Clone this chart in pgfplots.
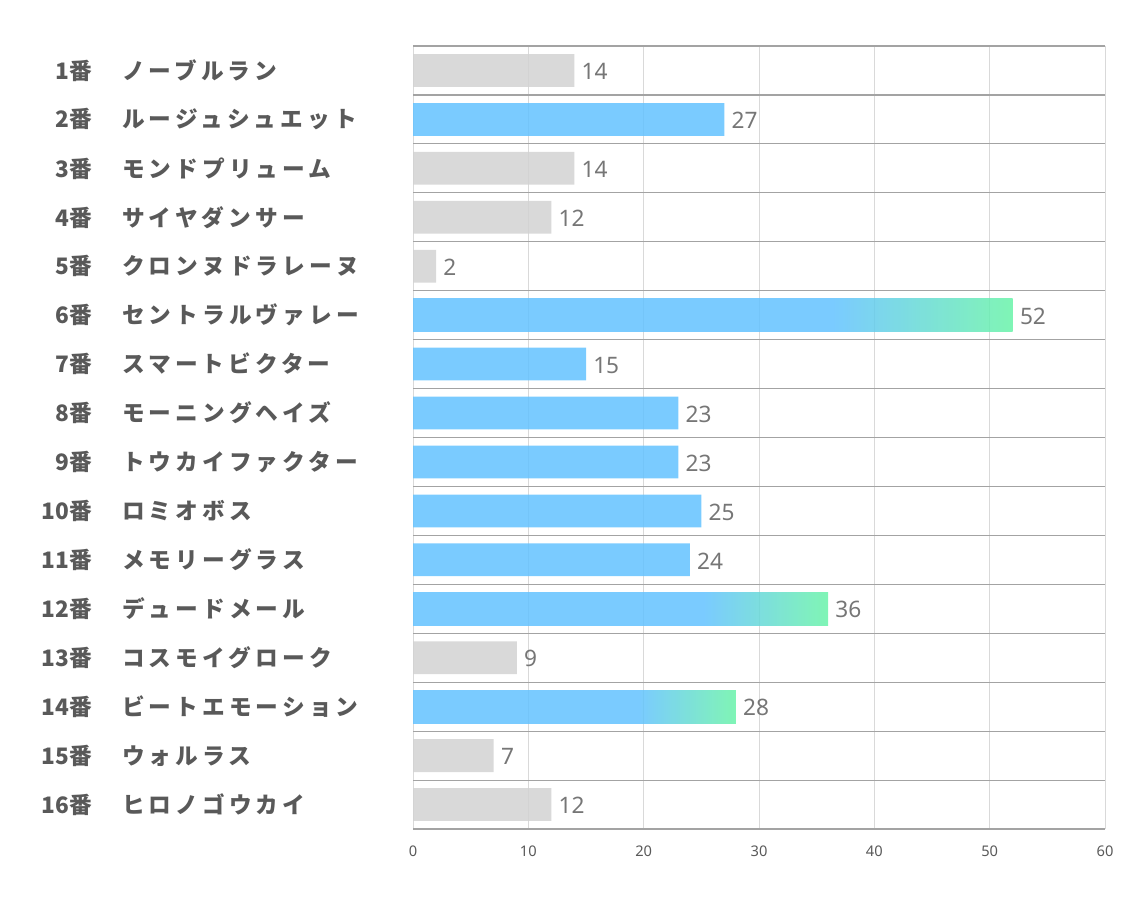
\documentclass[border=0pt]{standalone}
\usepackage{fontspec}
\usepackage{pgfplots}
\pgfplotsset{compat=1.18}
\setmainfont{Noto Sans}
\newfontfamily\jp{Noto Sans CJK JP}
\newfontfamily\jpls{Noto Sans CJK JP}[LetterSpace=18]
\definecolor{barblue}{RGB}{99,194,255}
\definecolor{bargreen}{RGB}{105,243,168}
\definecolor{bargray}{RGB}{210,210,210}
\definecolor{labgray}{RGB}{89,89,89}
\definecolor{valgray}{RGB}{118,118,118}
\pgfdeclarehorizontalshading{bargrad}{100bp}{color(0bp)=(barblue); color(25bp)=(barblue); color(60bp)=(barblue); color(75bp)=(bargreen); color(100bp)=(bargreen)}
\newcommand\lab[2]{\makebox[46.5pt][r]{\jp\bfseries #1}\hspace{22.5pt}{\jpls\bfseries #2}}
\begin{document}
\begin{tikzpicture}
\useasboundingbox (0,0) rectangle (850.5pt,680.25pt);
\begin{axis}[
  at={(309.75pt,58.5pt)}, anchor=south west,
  width=519pt, height=587.25pt, scale only axis,
  xbar, bar shift=0pt, bar width=0.67,
  xmin=0, xmax=60, ymin=0.5, ymax=16.5, y dir=reverse,
  xtick={0,10,...,60},
  ytick={0.5,1.5,...,16.5}, yticklabels={},
  xmajorgrids, ymajorgrids,
  x grid style={draw=black!15, line width=0.75pt},
  y grid style={draw=black!36, line width=0.85pt},
  axis line style={draw=none},
  major tick length=0pt,
  tick style={draw=none},
  xticklabel style={font=\fontsize{11pt}{13pt}\selectfont, text=labgray, inner sep=0pt, yshift=-12.75pt},
  /pgf/number format/assume math mode=true,
  extra y ticks={1,...,16},
  extra y tick labels={{\lab{1番}{ノーブルラン}},{\lab{2番}{ルージュシュエット}},{\lab{3番}{モンドプリューム}},{\lab{4番}{サイヤダンサー}},{\lab{5番}{クロンヌドラレーヌ}},{\lab{6番}{セントラルヴァレー}},{\lab{7番}{スマートビクター}},{\lab{8番}{モーニングヘイズ}},{\lab{9番}{トウカイファクター}},{\lab{10番}{ロミオボス}},{\lab{11番}{メモリーグラス}},{\lab{12番}{デュードメール}},{\lab{13番}{コスモイグローク}},{\lab{14番}{ビートエモーション}},{\lab{15番}{ウォルラス}},{\lab{16番}{ヒロノゴウカイ}}},
  extra y tick style={grid=none, major tick length=0pt, yticklabel style={anchor=west, xshift=-287.25pt, inner sep=0pt, font=\fontsize{17pt}{20pt}\selectfont, text=labgray}},
  point meta=x,
  nodes near coords,
  every node near coord/.append style={anchor=west, inner sep=0pt, xshift=5.25pt, yshift=-0.75pt, font=\fontsize{17pt}{20pt}\selectfont, text=valgray, text opacity=1},
]
\addplot[fill=bargray, draw=none, fill opacity=0.85] coordinates {(14,1) (14,3) (12,4) (2,5) (9,13) (7,15) (12,16)};
\addplot[fill=barblue, draw=none, fill opacity=0.85] coordinates {(27,2) (15,7) (23,8) (23,9) (25,10) (24,11)};
\addplot[shade, shading=bargrad, draw=none, fill opacity=0.85] coordinates {(52,6)};
\addplot[shade, shading=bargrad, draw=none, fill opacity=0.85] coordinates {(36,12)};
\addplot[shade, shading=bargrad, draw=none, fill opacity=0.85] coordinates {(28,14)};
\end{axis}
\end{tikzpicture}
\end{document}
